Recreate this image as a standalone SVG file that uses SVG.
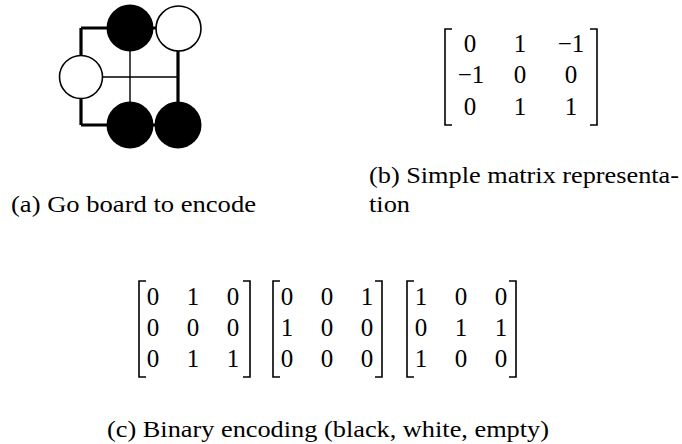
<svg xmlns="http://www.w3.org/2000/svg" width="682" height="444" viewBox="0 0 682 444">
<style>
text{font-family:"Liberation Serif","DejaVu Serif",serif;fill:#000}
.cap{font-size:24px}
.m{font-size:25px;text-anchor:middle}
.thick{stroke:#000;stroke-width:3.2;fill:none}
.thin{stroke:#000;stroke-width:1.4;fill:none}
.br{stroke:#000;stroke-width:1.6;fill:none}
.blk{fill:#000}
.wht{fill:#fff;stroke:#000;stroke-width:1.6}
</style>
<rect width="682" height="444" fill="#fff"/>
<g id="board">
<g id="lines">
<path class="thick" d="M81,28H178M81,125H178M81,28V125M178,28V125"/>
<path class="thin" d="M130,28V125M81,77H178"/>
</g>
<circle class="blk" cx="130" cy="28" r="23.5"/>
<circle class="wht" cx="178.5" cy="28.5" r="22.5"/>
<circle class="wht" cx="81" cy="77" r="21.5"/>
<circle class="blk" cx="130" cy="125" r="23.5"/>
<circle class="blk" cx="178" cy="125" r="23.5"/>
</g>
<text class="cap" x="11" y="212" textLength="245" lengthAdjust="spacingAndGlyphs">(a) Go board to encode</text>
<g id="matrix-b">
<path class="br" d="M452,29H445V125H452M590,29H597V125H590"/>
<text class="m" x="470" y="52">0</text>
<text class="m" x="520" y="52">1</text>
<text class="m" x="571" y="52">−1</text>
<text class="m" x="471" y="83">−1</text>
<text class="m" x="520" y="83">0</text>
<text class="m" x="571" y="83">0</text>
<text class="m" x="470" y="115">0</text>
<text class="m" x="520" y="115">1</text>
<text class="m" x="571" y="115">1</text>
</g>
<text class="cap" x="369" y="183" textLength="310" lengthAdjust="spacingAndGlyphs">(b) Simple matrix representa-</text>
<text class="cap" x="369" y="212" textLength="41" lengthAdjust="spacingAndGlyphs">tion</text>
<g id="matrix-c1">
<path class="br" d="M146,281H139V377H146M243,281H250V377H243"/>
<text class="m" x="153" y="305">0</text><text class="m" x="193" y="305">1</text><text class="m" x="233" y="305">0</text>
<text class="m" x="153" y="336">0</text><text class="m" x="193" y="336">0</text><text class="m" x="233" y="336">0</text>
<text class="m" x="153" y="367">0</text><text class="m" x="193" y="367">1</text><text class="m" x="233" y="367">1</text>
</g>
<g id="matrix-c2">
<path class="br" d="M280,281H273V377H280M375,281H382V377H375"/>
<text class="m" x="287" y="305">0</text><text class="m" x="327" y="305">0</text><text class="m" x="367" y="305">1</text>
<text class="m" x="287" y="336">1</text><text class="m" x="327" y="336">0</text><text class="m" x="367" y="336">0</text>
<text class="m" x="287" y="367">0</text><text class="m" x="327" y="367">0</text><text class="m" x="367" y="367">0</text>
</g>
<g id="matrix-c3">
<path class="br" d="M414,281H407V377H414M509,281H516V377H509"/>
<text class="m" x="421" y="305">1</text><text class="m" x="461" y="305">0</text><text class="m" x="501" y="305">0</text>
<text class="m" x="421" y="336">0</text><text class="m" x="461" y="336">1</text><text class="m" x="501" y="336">1</text>
<text class="m" x="421" y="367">1</text><text class="m" x="461" y="367">0</text><text class="m" x="501" y="367">0</text>
</g>
<text class="cap" x="107" y="437" textLength="442" lengthAdjust="spacingAndGlyphs">(c) Binary encoding (black, white, empty)</text>
</svg>
